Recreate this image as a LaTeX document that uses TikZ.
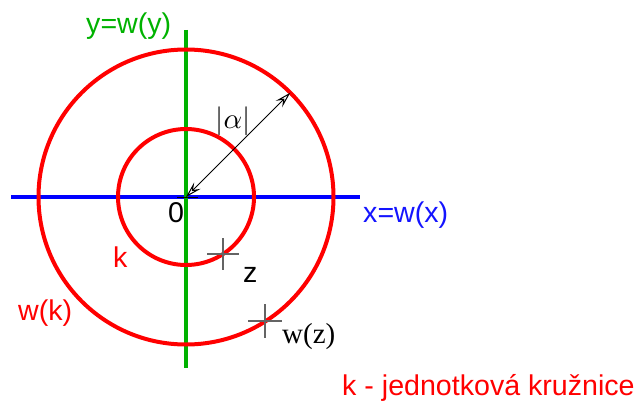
\documentclass[tikz,border=0pt]{standalone}
\usepackage{fontspec}
\setmainfont{Liberation Sans}
\newfontfamily\serifw{Liberation Serif}
\usetikzlibrary{arrows.meta,calc}
\definecolor{cred}{RGB}{255,0,0}
\definecolor{cgreen}{RGB}{0,178,0}
\definecolor{cblue}{RGB}{0,0,255}
\definecolor{ctext}{RGB}{20,20,255}
\definecolor{cgray}{RGB}{100,100,100}
\tikzset{
  circ/.style={draw=cred, line width=4pt},
  lbl/.style={anchor=base west, inner sep=0pt, font=\fontsize{28.6}{30}\selectfont},
  crossmark/.style={draw=cgray, line width=1.3pt},
  radarrow/.style={draw=black, line width=1pt, {Stealth[open,length=16pt,width=9pt,inset=6pt]}-{Stealth[open,length=16pt,width=9pt,inset=6pt]}}
}
\begin{document}
\begin{tikzpicture}[x=1pt,y=-1pt]
\useasboundingbox (0,0) rectangle (639,401);
\coordinate (O) at (186,197);
% axes
\draw[cblue, line width=4.5pt] (11,197) coordinate (xl) -- (360,197) coordinate (xr);
\draw[cgreen, line width=4pt] (186,30) coordinate (yt) -- (186,368) coordinate (yb);
% circles
\draw[circ] (O) circle[radius=68];
\draw[circ] (O) circle[radius=147.5];
% origin tick
\draw[black, line width=0.8pt] (177,197) -- (198,197);
% radius arrow
\path (O) ++(-45:147.5) coordinate (A);
\draw[radarrow] (O) -- (A);
% crosses
\coordinate (Z) at (223,254);
\coordinate (WZ) at (265,321);
\draw[crossmark] ($(Z)+(-16,0)$) -- ($(Z)+(16,0)$) ($(Z)+(0,-16)$) -- ($(Z)+(0,16)$);
\draw[crossmark] ($(WZ)+(-17,0)$) -- ($(WZ)+(17,0)$) ($(WZ)+(0,-17)$) -- ($(WZ)+(0,17)$);
% labels
\node[lbl, text=cgreen] (ly) at (86,34) {y=w(y)};
\node[lbl, text=ctext] (lx) at (363,222) {x=w(x)};
\node[lbl] (l0) at (168,222) {0};
\node[lbl, text=cred] (lk) at (113,267) {k};
\node[lbl, text=cred] (lwk) at (18,320) {w(k)};
\node[lbl] (lz) at (243,282) {z};
\node[lbl, font=\fontsize{29}{30}\serifw] (lwz) at (282,343) {w(z)};
\node[anchor=center, inner sep=0pt] (la) at (233,121) {\scalebox{2.9}{$|\alpha|$}};
\node[lbl, text=cred] (lt) at (342,395) {k - jednotková kružnice};
\end{tikzpicture}
\end{document}
